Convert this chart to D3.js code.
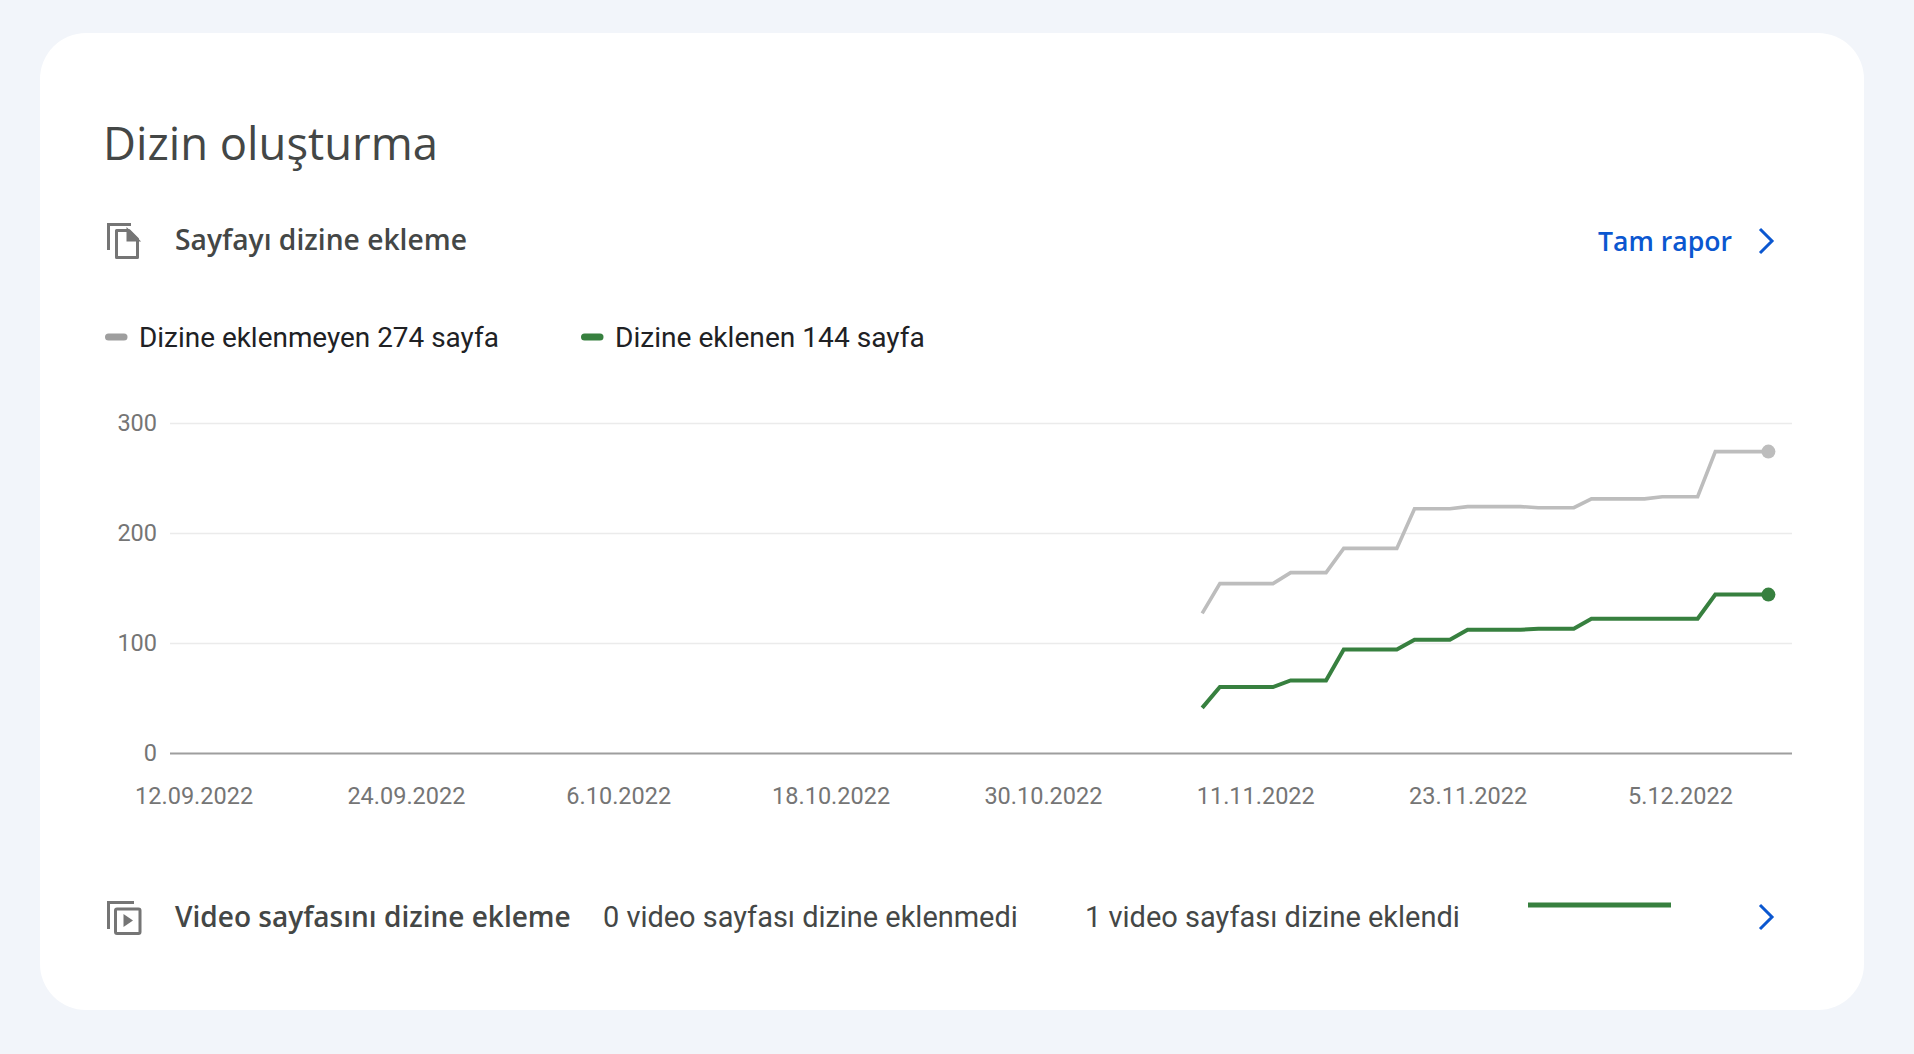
<!DOCTYPE html>
<html>
<head>
<meta charset="utf-8">
<script src="https://cdn.jsdelivr.net/npm/d3@7"></script>
<style>
  body { margin: 0; background: #f2f5fa; }
  svg { display: block; }
</style>
</head>
<body>
<svg id="chart" width="1914" height="1054"></svg>
<script>
// daily values (8.11.2022 - 10.12.2022)
const dates = [
  "2022-11-08", "2022-11-09", "2022-11-10", "2022-11-11", "2022-11-12", "2022-11-13",
  "2022-11-14", "2022-11-15", "2022-11-16", "2022-11-17", "2022-11-18", "2022-11-19",
  "2022-11-20", "2022-11-21", "2022-11-22", "2022-11-23", "2022-11-24", "2022-11-25",
  "2022-11-26", "2022-11-27", "2022-11-28", "2022-11-29", "2022-11-30", "2022-12-01",
  "2022-12-02", "2022-12-03", "2022-12-04", "2022-12-05", "2022-12-06", "2022-12-07",
  "2022-12-08", "2022-12-09", "2022-12-10"
]
const notIndexed = [
  127, 154, 154, 154, 154, 164, 164, 164, 186, 186, 186, 186,
  222, 222, 222, 224, 224, 224, 224, 223, 223, 223, 231, 231,
  231, 231, 233, 233, 233, 274, 274, 274, 274
]
const indexed = [
  41, 60, 60, 60, 60, 66, 66, 66, 94, 94, 94, 94,
  103, 103, 103, 112, 112, 112, 112, 113, 113, 113, 122, 122,
  122, 122, 122, 122, 122, 144, 144, 144, 144
]
const xTickDates = ["2022-09-12", "2022-09-24", "2022-10-06", "2022-10-18",
                    "2022-10-30", "2022-11-11", "2022-11-23", "2022-12-05"]
const yTicks = [0, 100, 200, 300]
const legendLabels = ["Dizine eklenmeyen 274 sayfa", "Dizine eklenen 144 sayfa"]
const videoLabels = ["0 video sayfası dizine eklenmedi", "1 video sayfası dizine eklendi"]
const videoIndexed = [1, 1, 1, 1, 1, 1, 1, 1]

const GRAY = "#bdbdbd", GRAY_KEY = "#9e9e9e", GREEN = "#37803f", BLUE = "#0b57d0"
const TEXT = "#444746", HEAD_FONT = "'Open Sans', sans-serif", ROBOTO = "Roboto, sans-serif"

var parse = d3.timeParse("%Y-%m-%d")
var svg = d3.select("#chart")

// shrink / grow a text so that it covers the width seen in the picture
function fit(sel, w) {
  var len = sel.node().getComputedTextLength()
  sel.attr("font-size", +sel.attr("font-size") * w / len)
  return sel
}

// card
svg.append("rect")
  .attr("x", 40).attr("y", 33)
  .attr("width", 1824).attr("height", 977)
  .attr("rx", 46)
  .attr("fill", "#fff")

// title
fit(svg.append("text")
  .attr("x", 103).attr("y", 160)
  .attr("font-family", HEAD_FONT).attr("font-size", 46)
  .attr("fill", TEXT)
  .text("Dizin oluşturma"), 335)

// header row: copy icon + label + full report link
var copyIcon = svg.append("g").attr("transform", "translate(107,223)")
  .attr("fill", "none").attr("stroke", "#757575").attr("stroke-width", 3)
copyIcon.append("path").attr("d", "M1.5,27V1.5H24")
copyIcon.append("path").attr("d", "M9.5,7.5H22L30.5,16V34.5H9.5Z").attr("stroke-linejoin", "round")
copyIcon.append("path").attr("d", "M21,7.5V17H30.5Z").attr("fill", "#757575")

fit(svg.append("text")
  .attr("x", 175).attr("y", 250)
  .attr("font-family", HEAD_FONT).attr("font-size", 26).attr("font-weight", 600)
  .attr("fill", TEXT)
  .text("Sayfayı dizine ekleme"), 292)

fit(svg.append("text")
  .attr("x", 1598).attr("y", 251)
  .attr("font-family", HEAD_FONT).attr("font-size", 26).attr("font-weight", 600)
  .attr("fill", BLUE)
  .text("Tam rapor"), 134)

svg.append("path")
  .attr("d", "M1760,229L1772,241L1760,253")
  .attr("fill", "none").attr("stroke", BLUE).attr("stroke-width", 3)

// legend
var legendX = [105, 581]
var legendColors = [GRAY_KEY, GREEN]
var legendWidths = [360, 310]
legendLabels.forEach(function(label, i) {
  svg.append("line")
    .attr("x1", legendX[i] + 3.5).attr("x2", legendX[i] + 19)
    .attr("y1", 337).attr("y2", 337)
    .attr("stroke", legendColors[i]).attr("stroke-width", 7)
    .attr("stroke-linecap", "round")
  fit(svg.append("text")
    .attr("x", legendX[i] + 34).attr("y", 347)
    .attr("font-family", ROBOTO).attr("font-size", 27)
    .attr("fill", "#202124")
    .text(label), legendWidths[i])
})

// scales
var x = d3.scaleTime()
  .domain([new Date(2022, 8, 10, 16), new Date(2022, 11, 11, 8)])
  .range([170, 1792])
var y = d3.scaleLinear()
  .domain([0, 300])
  .range([753, 423])

// grid
var grid = svg.append("g")
  .call(d3.axisRight(y).tickValues(yTicks).tickSize(x.range()[1] - x.range()[0]).tickFormat(""))
  .attr("transform", "translate(" + x.range()[0] + ",0)")
grid.select(".domain").remove()
grid.selectAll("line")
  .attr("stroke", function(d) { return d === 0 ? "#9e9e9e" : "#ebebeb" })
  .attr("stroke-width", function(d) { return d === 0 ? 2 : 1.5 })

// y labels
var yAxis = svg.append("g")
  .attr("transform", "translate(157,0)")
  .call(d3.axisLeft(y).tickValues(yTicks).tickSize(0).tickPadding(0))
yAxis.select(".domain").remove()
yAxis.selectAll("text")
  .attr("font-family", ROBOTO).attr("font-size", 23.5).attr("fill", "#757575")

// x labels
var xAxis = svg.append("g")
  .attr("transform", "translate(0," + y(0) + ")")
  .call(d3.axisBottom(x)
    .tickValues(xTickDates.map(parse))
    .tickFormat(d3.timeFormat("%-d.%m.%Y"))
    .tickSize(0).tickPadding(34))
xAxis.select(".domain").remove()
xAxis.selectAll("text")
  .attr("font-family", ROBOTO).attr("font-size", 23.5).attr("fill", "#757575")

// series
var series = [
  { values: notIndexed, color: GRAY, width: 3.6 },
  { values: indexed, color: GREEN, width: 4 }
]
series.forEach(function(s) {
  var data = dates.map(function(d, i) { return { date: parse(d), v: s.values[i] } })
  svg.append("path")
    .datum(data)
    .attr("fill", "none")
    .attr("stroke", s.color)
    .attr("stroke-width", s.width)
    .attr("d", d3.line()
      .x(function(d) { return x(d.date) })
      .y(function(d) { return y(d.v) }))
  var last = data[data.length - 1]
  svg.append("circle")
    .attr("cx", x(last.date)).attr("cy", y(last.v))
    .attr("r", 7).attr("fill", s.color)
})

// bottom row: video indexing
var videoIcon = svg.append("g").attr("transform", "translate(107,901)")
  .attr("fill", "none").attr("stroke", "#757575").attr("stroke-width", 3)
videoIcon.append("path").attr("d", "M1.5,28V1.5H27")
videoIcon.append("rect").attr("x", 8.5).attr("y", 8).attr("width", 24.5).attr("height", 24.5).attr("rx", 1.5)
videoIcon.append("path").attr("d", "M16.5,13V26L26,19.5Z").attr("fill", "#757575").attr("stroke", "none")

fit(svg.append("text")
  .attr("x", 175).attr("y", 927)
  .attr("font-family", HEAD_FONT).attr("font-size", 27).attr("font-weight", 600)
  .attr("fill", TEXT)
  .text("Video sayfasını dizine ekleme"), 396)

var videoX = [603, 1085]
var videoWidths = [415, 375]
videoLabels.forEach(function(label, i) {
  fit(svg.append("text")
    .attr("x", videoX[i]).attr("y", 927)
    .attr("font-family", ROBOTO).attr("font-size", 26)
    .attr("fill", TEXT)
    .text(label), videoWidths[i])
})

// small sparkline of indexed video pages
var sx = d3.scaleLinear().domain([0, videoIndexed.length - 1]).range([1528, 1671])
var sy = d3.scaleLinear().domain([0, 1]).range([930, 905])
svg.append("path")
  .datum(videoIndexed)
  .attr("fill", "none")
  .attr("stroke", GREEN)
  .attr("stroke-width", 5)
  .attr("d", d3.line()
    .x(function(d, i) { return sx(i) })
    .y(function(d) { return sy(d) }))

svg.append("path")
  .attr("d", "M1760,905L1772,917L1760,929")
  .attr("fill", "none").attr("stroke", BLUE).attr("stroke-width", 3)
</script>
</body>
</html>
